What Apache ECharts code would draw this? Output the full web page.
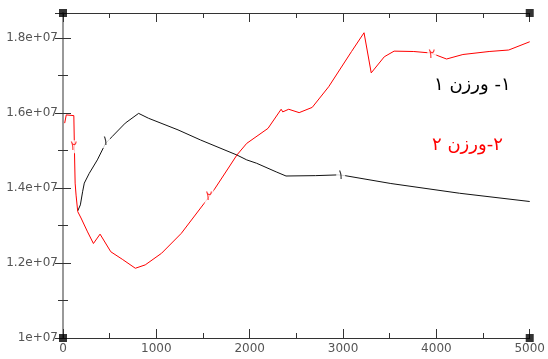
<!DOCTYPE html>
<html><head><meta charset="utf-8">
<script src="https://cdn.jsdelivr.net/npm/echarts@6/dist/echarts.min.js"></script>
<style>html,body{margin:0;padding:0;background:#fff}#c{width:548px;height:359px}</style>
</head><body><div id="c"></div>
<script>
// Series 1 (black, "ورزن ۱")
const s1X = [158, 186, 210, 228, 281, 368, 456, 526, 667, 810, 916, 1232, 1474, 1863, 1968, 2074, 2284, 2389, 2705, 2951, 3021, 3512, 4249, 5000];
const s1Y = [13.39e6, 13.55e6, 13.9e6, 14.13e6, 14.39e6, 14.75e6, 15.19e6, 15.37e6, 15.73e6, 15.99e6, 15.86e6, 15.55e6, 15.28e6, 14.88e6, 14.75e6, 14.66e6, 14.43e6, 14.32e6, 14.33e6, 14.35e6, 14.33e6, 14.12e6, 13.86e6, 13.64e6];
// Series 2 (red, "ورزن ۲")
const s2X = [18, 35, 116, 123, 130, 140, 158, 193, 263, 326, 397, 512, 635, 775, 881, 1056, 1267, 1512, 1618, 1758, 1863, 1968, 2196, 2337, 2354, 2418, 2530, 2670, 2846, 3091, 3225, 3302, 3442, 3547, 3758, 3940, 4109, 4284, 4565, 4775, 5000];
const s2Y = [15.73e6, 15.95e6, 15.93e6, 14.97e6, 14.13e6, 13.81e6, 13.37e6, 13.2e6, 12.83e6, 12.52e6, 12.77e6, 12.3e6, 12.1e6, 11.86e6, 11.95e6, 12.26e6, 12.79e6, 13.59e6, 13.95e6, 14.48e6, 14.88e6, 15.19e6, 15.59e6, 16.1e6, 16.03e6, 16.1e6, 16.01e6, 16.15e6, 16.7e6, 17.64e6, 18.14e6, 17.07e6, 17.5e6, 17.65e6, 17.64e6, 17.6e6, 17.44e6, 17.56e6, 17.64e6, 17.68e6, 17.9e6];
// inline line labels
const lab1 = [[456, 15.24e6], [2975, 14.33e6]];
const lab2 = [[116, 15.1e6], [1565, 13.77e6], [3951, 17.55e6]];
const word = 'ورزن';
const num1 = '۱', num2 = '۲';
// axes
const xMin = 0, xMax = 5000, xStep = 1000;
const yMin = 10e6, yMax = 18.667e6, yStep = 2e6;
const corners = [[xMin, yMin], [xMax, yMin], [xMin, yMax], [xMax, yMax]];

const zip = (a, b) => a.map((v, i) => [v, b[i]]);
const fmtY = v => {
  if (Math.abs(v % yStep) > 1 && Math.abs(v % yStep - yStep) > 1) return '';
  return String(+(v / 1e7).toFixed(2)) + 'e+07';
};
const tickCol = '#333';
const baseX = {
  type: 'value', min: xMin, max: xMax, interval: xStep,
  splitLine: { show: false },
  axisTick: { inside: true, length: 9, lineStyle: { color: tickCol } },
  minorTick: { show: true, splitNumber: 2, length: 5, lineStyle: { color: tickCol } },
};
const baseY = {
  type: 'value', min: yMin, max: yMax, interval: yStep,
  splitLine: { show: false },
  axisTick: { inside: true, length: 8, lineStyle: { color: tickCol } },
  minorTick: { show: true, splitNumber: 2, length: 5, lineStyle: { color: tickCol } },
};
const legendRich = col => ({
  d: { fill: col, fontFamily: 'DejaVu Sans', fontSize: 18 },
  w: { fill: col, fontFamily: 'DejaVu Sans', fontSize: 18 }
});
const chart = echarts.init(document.getElementById('c'), null, { renderer: 'canvas' });
chart.setOption({
  animation: false,
  backgroundColor: '#fff',
  grid: { left: 63, right: 10, top: 13, bottom: 21 },
  xAxis: [
    Object.assign({}, baseX, { position: 'bottom',
      axisLine: { lineStyle: { color: '#333', width: 1 } },
      axisLabel: { color: '#555', fontFamily: 'DejaVu Sans', fontSize: 12, margin: 5, formatter: v => String(v) } }),
    Object.assign({}, baseX, { position: 'top',
      axisLine: { lineStyle: { color: '#333', width: 1 } },
      axisLabel: { show: false } })
  ],
  yAxis: [
    Object.assign({}, baseY, { position: 'left',
      axisLine: { lineStyle: { color: '#999', width: 2 } },
      axisLabel: { color: '#555', fontFamily: 'DejaVu Sans', fontSize: 12, margin: 5, showMaxLabel: false, formatter: fmtY } }),
    Object.assign({}, baseY, { position: 'right',
      axisLine: { lineStyle: { color: '#999', width: 2 } },
      axisLabel: { show: false } })
  ],
  series: [
    { type: 'line', data: zip(s1X, s1Y), showSymbol: false, symbol: 'none',
      lineStyle: { color: '#111', width: 1 }, itemStyle: { color: '#111' } },
    { type: 'line', data: zip(s2X, s2Y), showSymbol: false, symbol: 'none',
      lineStyle: { color: '#ff0000', width: 1 }, itemStyle: { color: '#ff0000' } },
    { type: 'scatter', data: lab1, symbolSize: 1, itemStyle: { color: 'rgba(0,0,0,0)' }, z: 5,
      label: { show: true, position: 'inside', formatter: num1, color: '#000', fontFamily: 'DejaVu Sans',
        fontSize: 13, backgroundColor: '#fff', padding: [0, 1] } },
    { type: 'scatter', data: lab2, symbolSize: 1, itemStyle: { color: 'rgba(0,0,0,0)' }, z: 5,
      label: { show: true, position: 'inside', formatter: num2, color: '#ff0000', fontFamily: 'DejaVu Sans',
        fontSize: 13, backgroundColor: '#fff', padding: [0, 1] } },
    { type: 'scatter', data: corners, symbol: 'rect', symbolSize: 8, clip: false, z: 10,
      itemStyle: { color: '#000' } }
  ],
  graphic: [
    { type: 'text', left: 434, top: 76,
      style: { text: '{d|' + num1 + '}{w| ' + word + '}{d| -' + num1 + '}', rich: legendRich('#000') } },
    { type: 'text', left: 432, top: 136,
      style: { text: '{d|' + num2 + '}{w| ' + word + '}{d|-' + num2 + '}', rich: legendRich('#ff0000') } }
  ]
});
</script></body></html>
